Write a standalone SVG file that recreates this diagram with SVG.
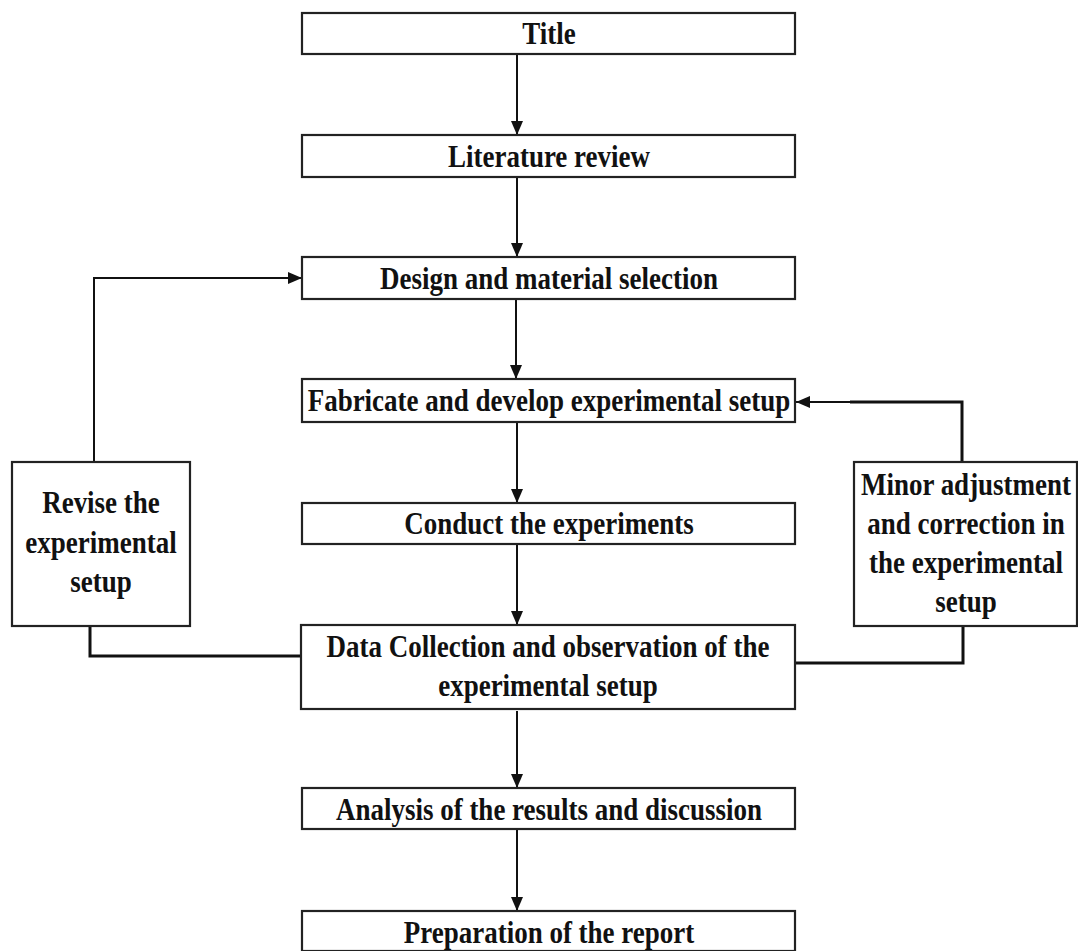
<svg xmlns="http://www.w3.org/2000/svg" width="1078" height="951" viewBox="0 0 1078 951">
<style>
.box{fill:#fff;stroke:#222;stroke-width:2.2}
.t{font-family:"Liberation Serif","Times New Roman",serif;font-weight:bold;font-size:27px;fill:#111;text-anchor:middle}
.ln{fill:none;stroke:#111;stroke-width:2}
.thk{fill:none;stroke:#111;stroke-width:3}
</style>
<defs>
<marker id="ah" viewBox="0 0 14 12" refX="14" refY="6" markerWidth="14" markerHeight="12" markerUnits="userSpaceOnUse" orient="auto">
<path d="M0,0 L14,6 L0,12 Z" fill="#111"/>
</marker>
</defs>
<rect width="1078" height="951" fill="#fff"/>
<g id="connectors">
<line class="ln" x1="517" y1="54" x2="517" y2="135" marker-end="url(#ah)"/>
<line class="ln" x1="517" y1="177" x2="517" y2="257" marker-end="url(#ah)"/>
<line class="ln" x1="516" y1="299" x2="516" y2="379" marker-end="url(#ah)"/>
<line class="ln" x1="517" y1="422" x2="517" y2="503" marker-end="url(#ah)"/>
<line class="ln" x1="517" y1="544" x2="517" y2="625" marker-end="url(#ah)"/>
<line class="ln" x1="517" y1="711" x2="517" y2="788" marker-end="url(#ah)"/>
<line class="ln" x1="517" y1="829" x2="517" y2="911" marker-end="url(#ah)"/>
<polyline class="ln" points="94,462 94,278 302,278" marker-end="url(#ah)"/>
<polyline class="thk" points="90,617 90,656 301,656"/>
<polyline class="thk" points="962,462 962,402 850,402"/>
<line class="ln" x1="852" y1="402" x2="796" y2="402" marker-end="url(#ah)"/>
<polyline class="thk" points="963,626 963,663 795,663"/>
</g>
<g id="n-title"><rect class="box" x="302" y="13" width="493" height="41"/><text class="t" x="549" y="44" transform="translate(0,-8.8) scale(1,1.2)">Title</text></g>
<g id="n-literature"><rect class="box" x="302" y="135" width="493" height="42"/><text class="t" x="549" y="167" transform="translate(0,-25.05) scale(1,1.15)">Literature review</text></g>
<g id="n-design"><rect class="box" x="302" y="257" width="493" height="42"/><text class="t" x="549" y="289" transform="translate(0,-43.35) scale(1,1.15)">Design and material selection</text></g>
<g id="n-fabricate"><rect class="box" x="302" y="379" width="493" height="43"/><text class="t" x="549" y="411" transform="translate(0,-61.65) scale(1,1.15)">Fabricate and develop experimental setup</text></g>
<g id="n-conduct"><rect class="box" x="302" y="503" width="493" height="41"/><text class="t" x="549" y="534" transform="translate(0,-80.1) scale(1,1.15)">Conduct the experiments</text></g>
<g id="n-data"><rect class="box" x="301" y="625" width="494" height="84"/><text class="t" x="548" y="657" transform="translate(0,-98.55) scale(1,1.15)">Data Collection and observation of the</text><text class="t" x="548" y="696" transform="translate(0,-104.4) scale(1,1.15)">experimental setup</text></g>
<g id="n-analysis"><rect class="box" x="302" y="788" width="493" height="41"/><text class="t" x="549" y="820" transform="translate(0,-123) scale(1,1.15)">Analysis of the results and discussion</text></g>
<g id="n-report"><rect class="box" x="302" y="911" width="493" height="40"/><text class="t" x="549" y="943" transform="translate(0,-141.45) scale(1,1.15)">Preparation of the report</text></g>
<g id="n-revise"><rect class="box" x="12" y="462" width="178" height="164"/><text class="t" x="101" y="513" transform="translate(0,-76.95) scale(1,1.15)">Revise the</text><text class="t" x="101" y="553" transform="translate(0,-82.95) scale(1,1.15)">experimental</text><text class="t" x="101" y="592" transform="translate(0,-88.8) scale(1,1.15)">setup</text></g>
<g id="n-minor"><rect class="box" x="854" y="462" width="223" height="164"/><text class="t" x="966" y="495" transform="translate(0,-74.25) scale(1,1.15)">Minor adjustment</text><text class="t" x="966" y="534" transform="translate(0,-80.1) scale(1,1.15)">and correction in</text><text class="t" x="966" y="573" transform="translate(0,-85.95) scale(1,1.15)">the experimental</text><text class="t" x="966" y="612" transform="translate(0,-91.8) scale(1,1.15)">setup</text></g>
</svg>
